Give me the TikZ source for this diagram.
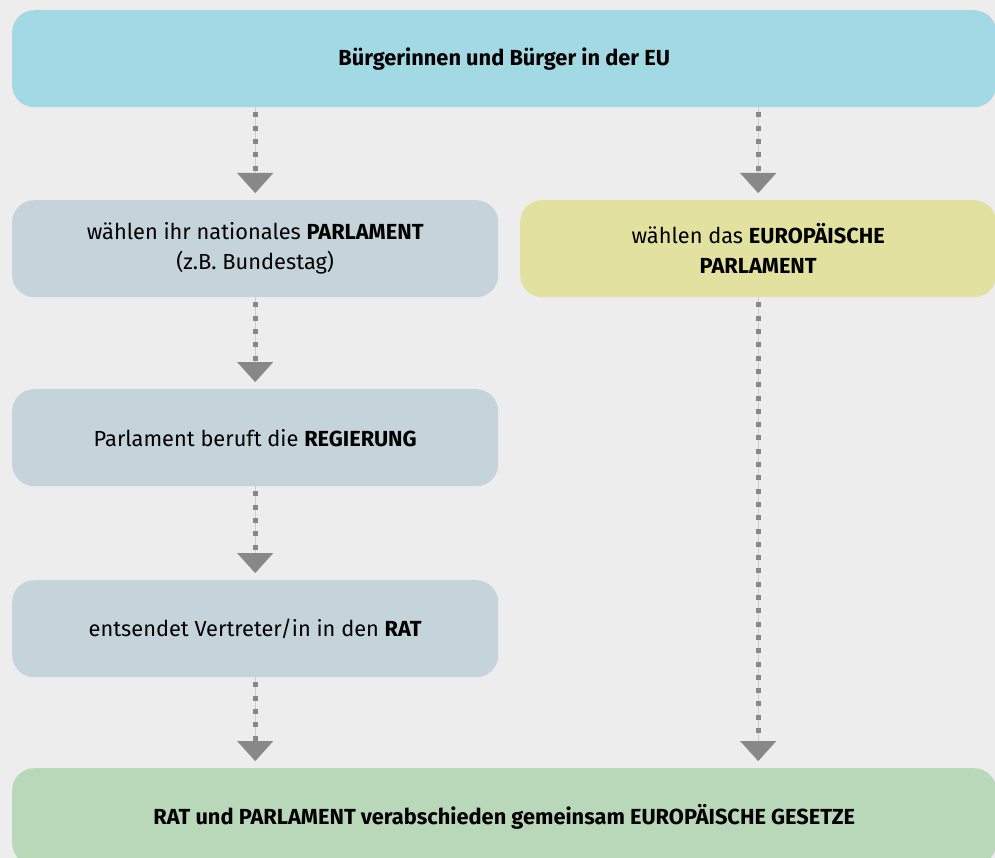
\documentclass[tikz,border=0pt]{standalone}
\usepackage{fontspec}
\setmainfont{Fira Sans}
\usetikzlibrary{arrows.meta}
\definecolor{bggrey}{HTML}{EDEDED}
\definecolor{eublue}{HTML}{A3D8E5}
\definecolor{natgrey}{HTML}{C5D3DB}
\definecolor{epyellow}{HTML}{E3E19F}
\definecolor{lawgreen}{HTML}{B9D7B9}
\definecolor{dotgrey}{HTML}{888888}
\definecolor{guidegrey}{HTML}{CCCCCC}
\tikzset{
  box/.style={rounded corners=22pt, minimum width=486pt, minimum height=97pt,
    inner sep=0pt, align=center, anchor=north west,
    font=\fontsize{21.8}{30}\selectfont},
  widebox/.style={box, minimum width=984pt},
  guide/.style={draw=guidegrey, line width=0.8pt, shorten >=15pt},
  dots/.style={draw=dotgrey, line width=5pt, dash pattern=on 5pt off 8.3pt,
    dash phase=8.3pt, shorten >=7pt,
    -{Triangle[width=36pt,length=20pt,line width=0.01pt]}},
}
\begin{document}
\begin{tikzpicture}[x=1pt,y=-1pt]
  \useasboundingbox (0,0) rectangle (995,858);
  \fill[bggrey] (0,0) rectangle (995,858);
  % boxes
  \node[widebox, fill=eublue] (citizens) at (12,10)
    {\textbf{Bürgerinnen und Bürger in der EU}};
  \node[box, fill=natgrey] (natparl) at (12,200)
    {wählen ihr nationales \textbf{PARLAMENT}\\(z.B. Bundestag)};
  \node[box, fill=epyellow, minimum width=476pt] (europarl) at (520,200)
    {wählen das \textbf{EUROPÄISCHE}\\\textbf{PARLAMENT}};
  \node[box, fill=natgrey] (govt) at (12,389)
    {Parlament beruft die \textbf{REGIERUNG}};
  \node[box, fill=natgrey] (council) at (12,580)
    {entsendet Vertreter/in in den \textbf{RAT}};
  \node[widebox, fill=lawgreen] (laws) at (12,768)
    {\textbf{RAT und PARLAMENT verabschieden gemeinsam EUROPÄISCHE GESETZE}};
  % connectors
  \coordinate (c1) at (citizens.south -| natparl.north);
  \coordinate (c2) at (citizens.south -| europarl.north);
  \coordinate (l1) at (laws.north -| council.south);
  \coordinate (l2) at (laws.north -| europarl.south);
  \foreach \a/\b in {c1/natparl.north, c2/europarl.north, natparl.south/govt.north,
                     govt.south/council.north, council.south/l1, europarl.south/l2} {
    \draw[guide] (\a) -- (\b);
    \draw[dots] (\a) -- (\b);
  }
\end{tikzpicture}
\end{document}
